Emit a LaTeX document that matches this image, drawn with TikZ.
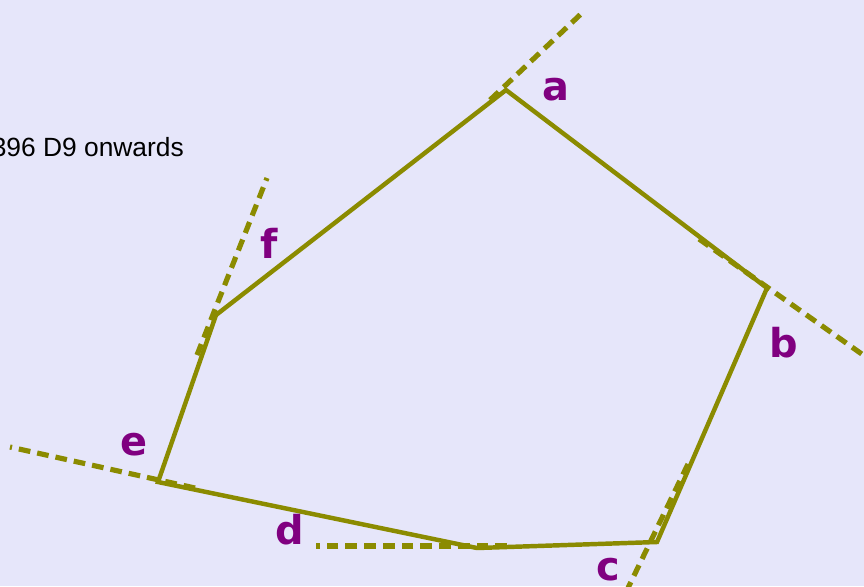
\documentclass[tikz,border=0pt]{standalone}
\usepackage{fontspec}
\setmainfont{Liberation Sans}
\newfontfamily\labelfont{DejaVu Sans}
\usepackage{tikz}
\usetikzlibrary{positioning}

\definecolor{sideolive}{RGB}{139,139,0}
\definecolor{anglepurple}{RGB}{128,0,128}
\definecolor{paper}{RGB}{230,230,250}

\begin{document}
\begin{tikzpicture}[x=0.3mm,y=-0.3mm,
   side/.style={draw=sideolive,line width=3.8pt,line join=miter},
   turn/.style={draw=sideolive,line width=4.4pt,dash pattern=on 10pt off 6pt},
   angle/.style={text=anglepurple,font=\labelfont\bfseries\fontsize{34}{34}\selectfont,inner sep=0pt}]
\fill[paper] (0,0) rectangle (864,586);
\useasboundingbox (0,0) rectangle (864,586);
\node[anchor=base east,font=\fontsize{22.5}{22.5}\selectfont,inner sep=0pt] (note) at (184,156) {396 D9 onwards};
% corners
\coordinate (a) at (506,90);
\coordinate (b) at (767,288);
\coordinate (c) at (657,542);
\coordinate (d) at (477,548);
\coordinate (e) at (158,482);
\coordinate (f) at (216,315);
% ends of the dashed extensions
\coordinate (a0) at (490,100);
\coordinate (a1) at (582,13);
\coordinate (b0) at (699,239);
\coordinate (b1) at (866,357);
\coordinate (c0) at (688,464);
\coordinate (c1) at (628,588);
\coordinate (d0) at (507,546);
\coordinate (d1) at (316,546);
\coordinate (e0) at (195,488);
\coordinate (e1) at (10,447);
\coordinate (f0) at (197,355);
\coordinate (f1) at (267,178);
\draw[turn] (a0) -- (a1);
\draw[turn] (b0) -- (b1);
\draw[turn] (c0) -- (c1);
\draw[turn] (d0) -- (d1);
\draw[turn] (e0) -- (e1);
\draw[turn] (f0) -- (f1);
\draw[side] (a) -- (b) -- (c) -- (d) -- (e) -- (f) -- cycle;
\node[angle] (la) at (556,90) {a};
\node[angle] (lb) at (784,343) {b};
\node[angle] (lc) at (608,570) {c};
\node[angle] (ld) at (290,530) {d};
\node[angle] (le) at (134,445) {e};
\node[angle] (lf) at (269,243) {f};
\end{tikzpicture}
\end{document}
